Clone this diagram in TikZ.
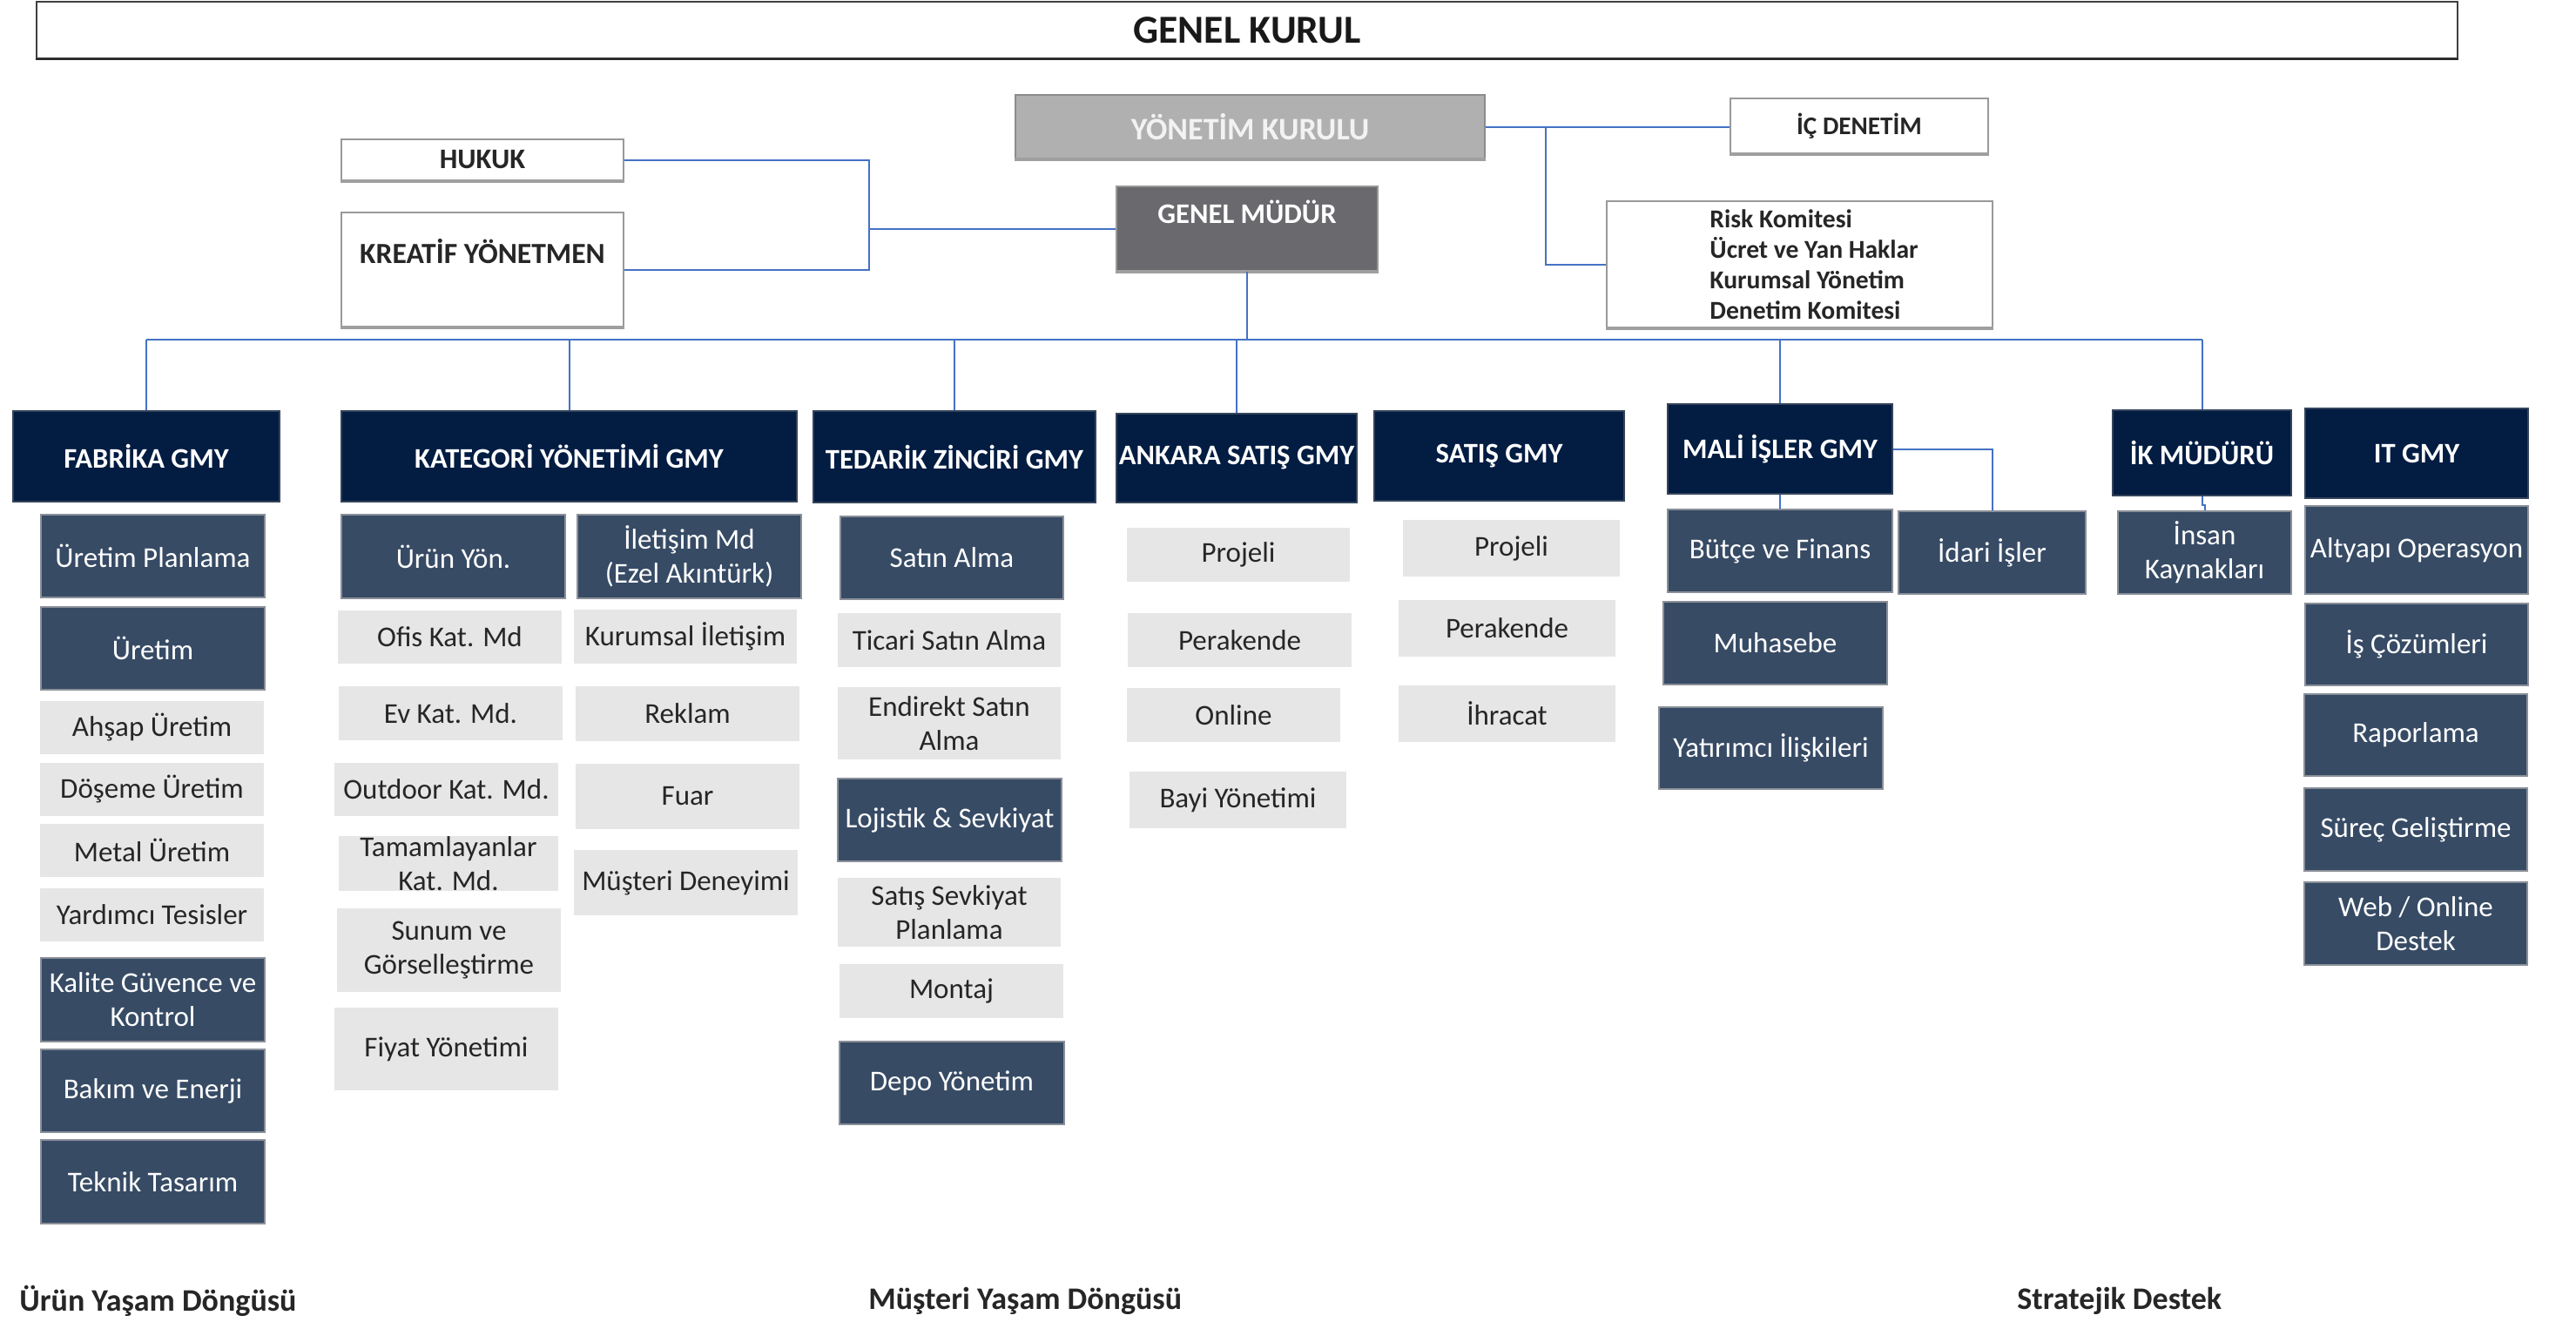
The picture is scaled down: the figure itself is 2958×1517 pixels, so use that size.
\documentclass[tikz,border=0pt]{standalone}
\usepackage{fontspec}
\setmainfont{Carlito}
\definecolor{navy}{HTML}{021C42}
\definecolor{slate}{HTML}{374B65}
\definecolor{lgray}{HTML}{E7E6E6}
\definecolor{ykgray}{HTML}{B0B0B0}
\definecolor{gmgray}{HTML}{69696E}
\definecolor{linkblue}{HTML}{4472C4}
\definecolor{bordgray}{HTML}{8A8F98}
\definecolor{txtdark}{HTML}{262626}
\newcommand\bodyfont{\fontsize{16.5}{19.5}\selectfont}
\newcommand\headfont{\fontsize{16.3}{19.5}\selectfont\bfseries}
\newcommand\bx[7]{%
  \pgfmathsetmacro\bxcx{(#3+#5)/2}%
  \pgfmathsetmacro\bxcy{(#4+#6)/2}%
  \pgfmathsetmacro\bxw{(#5-#3)/2}%
  \pgfmathsetmacro\bxh{(#6-#4)/2}%
  \node[#2, minimum width=\bxw pt, minimum height=\bxh pt] (#1) at (\bxcx,\bxcy) {#7};}
\tikzset{
  base/.style={rectangle, inner sep=0pt, align=center, font=\bodyfont},
  hdbox/.style={base, fill=navy, draw=navy!60!gray, line width=0.6pt, text=white, font=\headfont},
  dkbox/.style={base, fill=slate, draw=bordgray, line width=1.2pt, text=white},
  ltbox/.style={base, fill=lgray, text=txtdark},
  wtbox/.style={base, fill=white, draw=gray!80, line width=1pt, font=\headfont, text=txtdark},
  link/.style={draw=linkblue, line width=1pt},
  shade/.style={draw=gray!75, line width=1.8pt},
  foot/.style={font=\fontsize{18}{21}\selectfont\bfseries, text=txtdark, inner sep=0pt, anchor=west},
}
\begin{document}
\begin{tikzpicture}[x=0.5pt, y=-0.5pt]
\useasboundingbox[fill=white] (0,0) rectangle (2958,1517);

% top level
\bx{gk}{base, fill=white, draw=black!75, line width=1pt, font=\fontsize{22.8}{26}\selectfont\bfseries, text=black!90}{42}{2}{2822}{67}{GENEL KURUL}
\bx{yk}{base, fill=ykgray, draw=gray!90, line width=0.8pt, font=\fontsize{18}{21}\selectfont\bfseries, text=white!95!black}{1166}{109}{1705}{182}{YÖNETİM KURULU}
\bx{icd}{wtbox, font=\fontsize{14.6}{17}\selectfont\bfseries}{1987}{113}{2283}{176}{İÇ DENETİM}
\bx{kom}{wtbox}{1845}{231}{2288}{376}{}
\node[anchor=west, align=left, inner sep=0pt, font=\fontsize{14.8}{17.5}\selectfont\bfseries, text=txtdark] (komT) at (1963,304) {Risk Komitesi\\Ücret ve Yan Haklar\\Kurumsal Yönetim\\Denetim Komitesi};
\bx{hukuk}{wtbox}{392}{160}{716}{207}{HUKUK}
\bx{kreatif}{wtbox}{392}{244}{716}{375}{}
\node[font=\fontsize{16.8}{19.5}\selectfont\bfseries, text=txtdark, inner sep=0pt] (kreatifT) at (554,289) {KREATİF YÖNETMEN};
\bx{gm}{base, fill=gmgray, draw=gray!80, line width=1pt}{1282}{214}{1582}{311}{}
\node[font=\headfont, text=white, inner sep=0pt] (gmT) at (1432,243) {GENEL MÜDÜR};

% bottom shades of the white boxes
\foreach \n in {hukuk,kreatif,icd,kom,yk,gm}{\draw[shade] (\n.south west) -- (\n.south east);}
\draw[black!85, line width=1.4pt] (gk.south west) -- (gk.south east);

% connectors top
\coordinate (j1) at (998,263);
\coordinate (j2) at (1775,146);
\coordinate (bus) at (0,390);
\draw[link] (hukuk.east) -- (hukuk.east -| j1) |- (kreatif.east);
\draw[link] (j1 |- gm.west) -- (gm.west);
\draw[link] (yk.east) -- (yk.east -| icd.west);
\draw[link] (yk.east -| j2) |- (kom.west);

% heads
\bx{fab}{hdbox}{15}{472}{321}{576}{FABRİKA GMY}
\bx{kat}{hdbox}{392}{472}{915}{576}{KATEGORİ YÖNETİMİ GMY}
\bx{ted}{hdbox}{934}{472}{1258}{577}{TEDARİK ZİNCİRİ GMY}
\bx{ank}{hdbox}{1282}{475}{1558}{577}{ANKARA SATIŞ GMY}
\bx{sat}{hdbox}{1578}{472}{1865}{575}{SATIŞ GMY}
\bx{mali}{hdbox}{1915}{464}{2173}{567}{MALİ İŞLER GMY}
\bx{ik}{hdbox}{2426}{471}{2631}{569}{İK MÜDÜRÜ}
\bx{it}{hdbox}{2647}{469}{2903}{572}{IT GMY}

% bus
\draw[link] (gm.south) -- (gm.south |- bus);
\draw[link] (fab.north |- bus) -- (ik.north |- bus);
\foreach \n in {fab,kat,ted,ank,mali,ik}{\draw[link] (\n.north) -- (\n.north |- bus);}

% FABRIKA column
\bx{f1}{dkbox}{47}{591}{304}{686}{Üretim Planlama}
\bx{f2}{dkbox}{47}{697}{304}{792}{Üretim}
\bx{f3}{ltbox}{46}{805}{303}{866}{Ahşap Üretim}
\bx{f4}{ltbox}{46}{876}{303}{937}{Döşeme Üretim}
\bx{f5}{ltbox}{46}{946}{303}{1007}{Metal Üretim}
\bx{f6}{ltbox}{46}{1020}{303}{1081}{Yardımcı Tesisler}
\bx{f7}{dkbox}{47}{1100}{304}{1196}{Kalite Güvence ve\\Kontrol}
\bx{f8}{dkbox}{47}{1205}{304}{1300}{Bakım ve Enerji}
\bx{f9}{dkbox}{47}{1309}{304}{1405}{Teknik Tasarım}

% KATEGORI left
\bx{k1}{dkbox}{392}{591}{649}{687}{Ürün Yön.}
\bx{k2}{ltbox}{388}{701}{645}{762}{Ofis Kat. Md}
\bx{k3}{ltbox}{389}{788}{646}{850}{Ev Kat. Md.}
\bx{k4}{ltbox}{384}{876}{641}{937}{Outdoor Kat. Md.}
\bx{k5}{ltbox}{389}{961}{641}{1022}{Tamamlayanlar\\Kat. Md.}
\bx{k6}{ltbox}{387}{1043}{644}{1139}{Sunum ve\\Görselleştirme}
\bx{k7}{ltbox}{384}{1157}{641}{1252}{Fiyat Yönetimi}
% KATEGORI right
\bx{k8}{dkbox}{663}{591}{920}{687}{İletişim Md\\(Ezel Akıntürk)}
\bx{k9}{ltbox}{659}{700}{915}{762}{Kurumsal İletişim}
\bx{k10}{ltbox}{661}{788}{918}{851}{Reklam}
\bx{k11}{ltbox}{661}{877}{918}{952}{Fuar}
\bx{k12}{ltbox}{659}{976}{916}{1051}{Müşteri Deneyimi}

% TEDARIK
\bx{t1}{dkbox}{965}{593}{1221}{688}{Satın Alma}
\bx{t2}{ltbox}{962}{704}{1218}{766}{Ticari Satın Alma}
\bx{t3}{ltbox}{962}{789}{1218}{872}{Endirekt Satın\\Alma}
\bx{t4}{dkbox}{962}{894}{1219}{989}{Lojistik \& Sevkiyat}
\bx{t5}{ltbox}{962}{1008}{1218}{1087}{Satış Sevkiyat\\Planlama}
\bx{t6}{ltbox}{964}{1107}{1221}{1169}{Montaj}
\bx{t7}{dkbox}{964}{1196}{1222}{1291}{Depo Yönetim}

% ANKARA
\bx{a1}{ltbox}{1294}{606}{1550}{668}{Projeli}
\bx{a2}{ltbox}{1295}{704}{1552}{766}{Perakende}
\bx{a3}{ltbox}{1294}{790}{1539}{852}{Online}
\bx{a4}{ltbox}{1297}{886}{1546}{951}{Bayi Yönetimi}

% SATIS
\bx{s1}{ltbox}{1611}{597}{1860}{662}{Projeli}
\bx{s2}{ltbox}{1606}{689}{1855}{754}{Perakende}
\bx{s3}{ltbox}{1606}{787}{1855}{852}{İhracat}

% MALI
\bx{m1}{dkbox}{1915}{585}{2173}{680}{Bütçe ve Finans}
\bx{m2}{dkbox}{2180}{587}{2395}{682}{İdari İşler}
\bx{m3}{dkbox}{1910}{691}{2167}{786}{Muhasebe}
\bx{m4}{dkbox}{1905}{812}{2162}{906}{Yatırımcı İlişkileri}
\draw[link] (mali.south) -- (m1.north);
\draw[link] (mali.east) -| (m2.north);

% IK
\bx{h1}{dkbox}{2432}{587}{2631}{682}{İnsan\\Kaynakları}
\draw[link] (ik.south) -- ++(0,10) -| (h1.north);

% IT
\bx{i1}{dkbox}{2647}{581}{2903}{682}{Altyapı Operasyon}
\bx{i2}{dkbox}{2647}{693}{2903}{787}{İş Çözümleri}
\bx{i3}{dkbox}{2646}{797}{2902}{891}{Raporlama}
\bx{i4}{dkbox}{2646}{905}{2902}{1000}{Süreç Geliştirme}
\bx{i5}{dkbox}{2646}{1013}{2902}{1108}{Web / Online\\Destek}

% footer labels
\node[foot] (l1) at (22,1494) {Ürün Yaşam Döngüsü};
\node[foot] (l2) at (997,1494) {Müşteri Yaşam Döngüsü};
\node[foot] (l3) at (2316,1494) {Stratejik Destek};
\end{tikzpicture}
\end{document}
